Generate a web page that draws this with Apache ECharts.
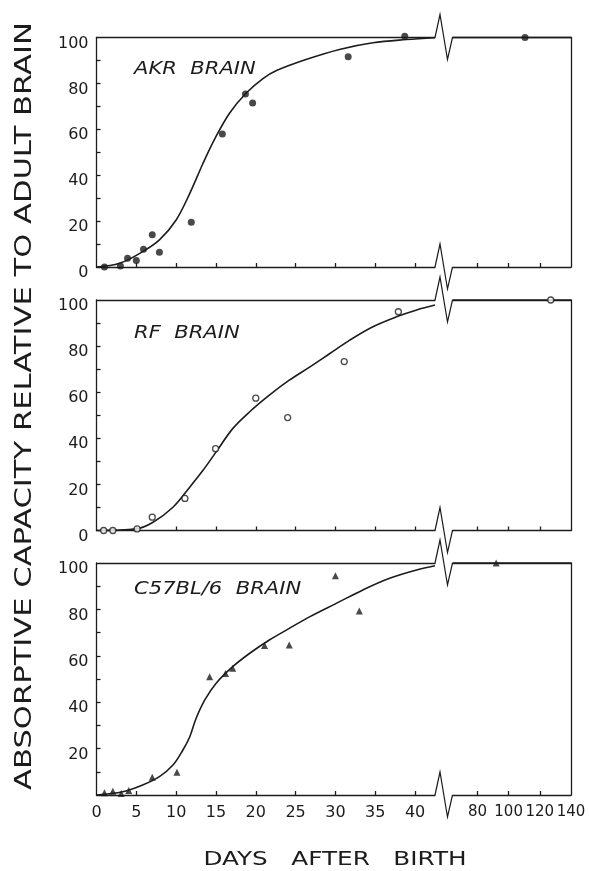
<!DOCTYPE html>
<html>
<head>
<meta charset="utf-8">
<style>html,body{margin:0;padding:0;background:#fff;}#c{width:589px;height:871px;}</style>
<script src="https://cdn.jsdelivr.net/npm/echarts/dist/echarts.min.js"></script>
</head>
<body>
<div id="c"></div>
<script>
// ---- tick labels ----
const dayTicksLeft = [5, 10, 15, 20, 25, 30, 35, 40];
const dayLabelsLeft = [0, 5, 10, 15, 20, 25, 30, 35, 40];
const dayTicksRight = [80, 100, 120];
const dayLabelsRight = [80, 100, 120, 140];
const valueTicks = [10, 20, 30, 40, 50, 60, 70, 80, 90];
const valueLabels = [0, 20, 40, 60, 80, 100];
const valueLabelsBottom = [20, 40, 60, 80, 100];

// ---- AKR brain ----
const akrDays   = [1, 3, 3.9, 5, 5.9, 7, 7.9, 11.9, 15.8, 18.7, 19.6, 31.6, 38.7];
const akrValues = [0, 0.4, 3.8, 2.8, 7.7, 14, 6.4, 19.5, 58, 75.4, 71.5, 91.6, 100.5];
const akrAdultDays = [110.5];
const akrAdultValues = [100];
const akrCurveDays   = [0, 2.9, 5.8, 7.9, 10, 11.7, 13.35, 14.8, 16.7, 18.8, 20.9, 22.6, 26.3, 30.5, 34.7, 38.9, 42.5];
const akrCurveValues = [0, 1.6, 6.7, 11.8, 20.5, 32, 45, 55.5, 67, 75.8, 82.1, 85.6, 90.4, 94.8, 97.7, 99.1, 99.9];

// ---- RF brain ----
const rfDays   = [0.9, 2.05, 5.1, 7.0, 11.1, 14.95, 20.0, 24.0, 31.1, 37.9];
const rfValues = [0, 0, 0.7, 5.8, 13.9, 35.5, 57.4, 49, 73.3, 94.9];
const rfAdultDays = [127];
const rfAdultValues = [100];
const rfCurveDays   = [0, 5, 7.1, 9.6, 11.7, 13.35, 15, 17.1, 19.2, 21.7, 24.2, 26.8, 29.3, 31.8, 34.7, 37.65, 40.2, 42.5];
const rfCurveValues = [0, 0.7, 3.6, 10.1, 18.8, 26, 34, 44.2, 51.4, 58.7, 65.2, 71, 76.8, 82.6, 88.4, 92.7, 95.7, 97.8];

// ---- C57BL/6 brain ----
const c57Days   = [1, 2.05, 3.1, 4.05, 7.0, 10.1, 14.2, 16.2, 17.1, 21.1, 24.2, 30, 33];
const c57Values = [1, 1.6, 0.7, 1.9, 7.6, 9.8, 51, 52.4, 54.6, 64.4, 64.7, 94.5, 79.3];
const c57AdultDays = [92];
const c57AdultValues = [100];
const c57CurveDays   = [0, 3.3, 5.8, 7.9, 9.6, 10.85, 11.7, 12.5, 13.6, 15, 17.1, 19.2, 21.7, 24.2, 26.8, 30.1, 33.45, 36.8, 40.2, 42.5];
const c57CurveValues = [0, 1.4, 4.3, 7.9, 12.9, 19.4, 25, 33, 41, 48.1, 55.3, 61, 66.8, 71.8, 76.9, 82.6, 88.4, 93.4, 97, 98.8];

// adult plateau (right segment of curve)
const adultCurveDays = [64, 140];
const adultCurveValues = [100, 100];

const panelNames = ['AKR  BRAIN', 'RF  BRAIN', 'C57BL/6  BRAIN'];

const zip = (a, b) => a.map((v, i) => [v, b[i]]);

const INK = '#1c1c1c';
const FONT = 'DejaVu Sans';
const L_LEFT = 96.5, L_RIGHT = 435, R_LEFT = 452.5, R_RIGHT = 571;
const panels = [
  { top: 37.5, height: 229.5, days: akrDays, vals: akrValues, ad: akrAdultDays, av: akrAdultValues,
    cd: akrCurveDays, cv: akrCurveValues, symbol: 'circle', size: 7, filled: true, name: panelNames[0] },
  { top: 300, height: 230.5, days: rfDays, vals: rfValues, ad: rfAdultDays, av: rfAdultValues,
    cd: rfCurveDays, cv: rfCurveValues, symbol: 'circle', size: 6, filled: false, name: panelNames[1] },
  { top: 563, height: 232, days: c57Days, vals: c57Values, ad: c57AdultDays, av: c57AdultValues,
    cd: c57CurveDays, cv: c57CurveValues, symbol: 'triangle', size: 7, filled: true, name: panelNames[2] }
];

const grid = [], xAxis = [], yAxis = [], series = [], graphic = [];
const lineStyle = { color: INK, width: 1.3 };

panels.forEach((p, i) => {
  const isBottom = i === 2;
  const gL = grid.length;
  grid.push({ left: L_LEFT, width: L_RIGHT - L_LEFT, top: p.top, height: p.height });
  const gR = grid.length;
  grid.push({ left: R_LEFT, width: R_RIGHT - R_LEFT, top: p.top, height: p.height });

  const xl = xAxis.length;
  xAxis.push({
    gridIndex: gL, type: 'value', min: 0, max: 42.5, position: 'bottom',
    axisLine: { show: true, onZero: false, lineStyle },
    axisTick: { show: true, inside: true, length: 4, customValues: dayTicksLeft, lineStyle },
    axisLabel: { show: isBottom, customValues: dayLabelsLeft, margin: 10, color: INK, fontFamily: FONT, fontSize: 16 },
    splitLine: { show: false }
  });
  xAxis.push({
    gridIndex: gL, type: 'value', min: 0, max: 42.5, position: 'top',
    axisLine: { show: true, onZero: false, lineStyle },
    axisTick: { show: false }, axisLabel: { show: false }, splitLine: { show: false }
  });
  const xr = xAxis.length;
  xAxis.push({
    gridIndex: gR, type: 'value', min: 64, max: 140, position: 'bottom',
    axisLine: { show: true, onZero: false, lineStyle },
    axisTick: { show: true, inside: true, length: 4, customValues: dayTicksRight, lineStyle },
    axisLabel: { show: isBottom, customValues: dayLabelsRight, margin: 10, color: INK, fontFamily: FONT, fontSize: 15 },
    splitLine: { show: false }
  });
  xAxis.push({
    gridIndex: gR, type: 'value', min: 64, max: 140, position: 'top',
    axisLine: { show: true, onZero: false, lineStyle },
    axisTick: { show: false }, axisLabel: { show: false }, splitLine: { show: false }
  });

  const yl = yAxis.length;
  yAxis.push({
    gridIndex: gL, type: 'value', min: 0, max: 100, position: 'left',
    axisLine: { show: true, onZero: false, lineStyle },
    axisTick: { show: true, inside: true, length: 4, customValues: valueTicks, lineStyle },
    axisLabel: { show: true, customValues: isBottom ? valueLabelsBottom : valueLabels, margin: 8,
      color: INK, fontFamily: FONT, fontSize: 16, verticalAlign: 'top', lineHeight: 12 },
    splitLine: { show: false }
  });
  const yr = yAxis.length;
  yAxis.push({
    gridIndex: gR, type: 'value', min: 0, max: 100, position: 'right',
    axisLine: { show: true, onZero: false, lineStyle },
    axisTick: { show: false }, axisLabel: { show: false }, splitLine: { show: false }
  });

  // fitted curve
  series.push({
    type: 'line', xAxisIndex: xl, yAxisIndex: yl, data: zip(p.cd, p.cv), smooth: 0.35,
    showSymbol: false, symbol: 'none', lineStyle: { color: INK, width: 1.6 }, clip: false, z: 3
  });
  series.push({
    type: 'line', xAxisIndex: xr, yAxisIndex: yr, data: zip(adultCurveDays, adultCurveValues),
    showSymbol: false, symbol: 'none', lineStyle: { color: INK, width: 1.4 }, clip: false, z: 3
  });
  const itemStyle = p.filled
    ? { color: INK, borderWidth: 0 }
    : { color: '#fff', borderColor: INK, borderWidth: 1.3 };
  series.push({
    type: 'scatter', xAxisIndex: xl, yAxisIndex: yl, data: zip(p.days, p.vals),
    symbol: p.symbol, symbolSize: p.size, itemStyle, clip: false, z: 4
  });
  series.push({
    type: 'scatter', xAxisIndex: xr, yAxisIndex: yr, data: zip(p.ad, p.av),
    symbol: p.symbol, symbolSize: p.size, itemStyle, clip: false, z: 4
  });

  // axis-break glyphs on top and bottom borders
  [p.top, p.top + p.height].forEach(b => {
    graphic.push({
      type: 'polyline', z: 10,
      shape: { points: [[L_RIGHT, b], [L_RIGHT + 5, b - 23], [L_RIGHT + 12.5, b + 22], [R_LEFT, b]] },
      style: { stroke: INK, lineWidth: 1.2, fill: null }
    });
  });

  // panel label
  graphic.push({
    type: 'text', x: 134, y: p.top + [32, 34, 27][i], scaleX: 1.24, z: 10,
    style: { text: p.name, fontFamily: FONT, fontSize: 17, fontStyle: 'italic', fill: INK,
      textAlign: 'left', textVerticalAlign: 'middle', align: 'left', verticalAlign: 'middle' }
  });
});

// axis titles
graphic.push({
  type: 'text', x: 25, y: 406, rotation: Math.PI / 2, scaleX: 1.33, z: 10,
  style: { text: 'ABSORPTIVE CAPACITY RELATIVE TO ADULT BRAIN', fontFamily: FONT, fontSize: 23, fill: INK,
    textAlign: 'center', textVerticalAlign: 'middle', align: 'center', verticalAlign: 'middle' }
});
graphic.push({
  type: 'text', x: 335, y: 860, scaleX: 1.3, z: 10,
  style: { text: 'DAYS   AFTER   BIRTH', fontFamily: FONT, fontSize: 19, fill: INK,
    textAlign: 'center', textVerticalAlign: 'middle', align: 'center', verticalAlign: 'middle' }
});

const chart = echarts.init(document.getElementById('c'), null, { renderer: 'canvas' });
chart.setOption({
  backgroundColor: '#fff',
  animation: false,
  grid, xAxis, yAxis, series, graphic
});
</script>
</body>
</html>
